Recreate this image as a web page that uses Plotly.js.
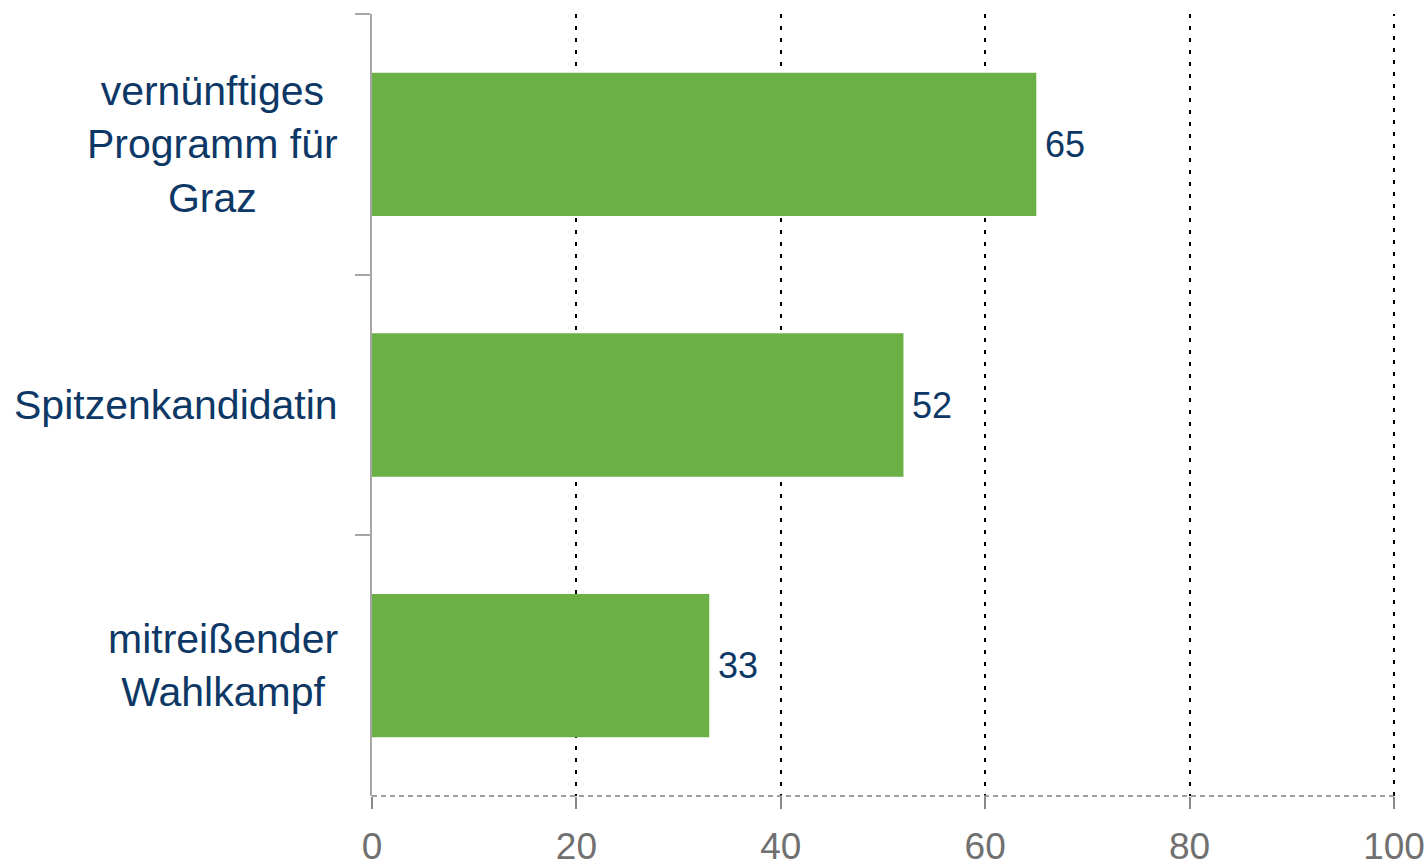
<!DOCTYPE html>
<html>
<head>
<meta charset="utf-8">
<script src="https://cdn.plot.ly/plotly-3.0.1.min.js"></script>
<style>html,body{margin:0;padding:0;background:#fff;}#chart{width:1427px;height:867px;}</style>
</head>
<body>
<div id="chart"></div>
<script>
// Data
const categories = ["vernünftiges<br>Programm für<br>Graz", "Spitzenkandidatin", "mitreißender<br>Wahlkampf"];
const values = [65, 52, 33];
const xTickValues = [0, 20, 40, 60, 80, 100];
const xTickLabels = ["0", "20", "40", "60", "80", "100"];
const xMax = 100;

const navy = "#0d3866";
const green = "#6ab045";
const fontFam = "'Liberation Sans', Arial, sans-serif";

const trace = {
  type: "bar",
  orientation: "h",
  y: categories,
  x: values,
  marker: {color: green, line: {width: 0}},
  hoverinfo: "none"
};

const valueAnnotations = values.map((v, i) => ({
  x: v, y: categories[i], xref: "x", yref: "y",
  text: String(v), showarrow: false, xanchor: "left", yanchor: "middle",
  xshift: 7, font: {family: fontFam, size: 36, color: navy}
}));

const labelAnnotations = categories.map((c) => ({
  x: 0, y: c, xref: "paper", yref: "y",
  text: c, showarrow: false, xanchor: "right", yanchor: "middle",
  align: "center", xshift: -32,
  font: {family: fontFam, size: 41, color: navy}
}));

const layout = {
  width: 1427, height: 867,
  margin: {l: 372, r: 33, t: 14, b: 71, pad: 0},
  paper_bgcolor: "#ffffff", plot_bgcolor: "#ffffff",
  showlegend: false,
  bargap: 0.45,
  font: {family: fontFam},
  xaxis: {
    range: [0, xMax],
    tickvals: xTickValues, ticktext: xTickLabels,
    showgrid: true, gridcolor: "#000000", gridwidth: 2, griddash: "4px,8px",
    zeroline: false, showline: false,
    ticks: "outside", ticklen: 12, tickwidth: 2, tickcolor: "#888888",
    ticklabelstandoff: 6,
    tickfont: {family: fontFam, size: 37, color: "#707070"},
    fixedrange: true
  },
  yaxis: {
    type: "category", autorange: "reversed",
    showticklabels: false,
    tickson: "boundaries",
    ticks: "outside", ticklen: 15, tickwidth: 2, tickcolor: "#a6a6a6",
    showline: true, linecolor: "#a6a6a6", linewidth: 2,
    showgrid: false, zeroline: false, fixedrange: true
  },
  shapes: [
    {
      type: "line", xref: "paper", yref: "paper", x0: 1, x1: 1, y0: 0, y1: 1,
      line: {color: "#000000", width: 2, dash: "4px,8px"}, layer: "below"
    },
    {
      type: "line", xref: "paper", yref: "paper", x0: 0, x1: 1, y0: 0, y1: 0,
      line: {color: "#808080", width: 1.5, dash: "5px,4px"}, layer: "above"
    }
  ],
  annotations: valueAnnotations.concat(labelAnnotations)
};

Plotly.newPlot("chart", [trace], layout, {displayModeBar: false, staticPlot: true});
</script>
</body>
</html>
